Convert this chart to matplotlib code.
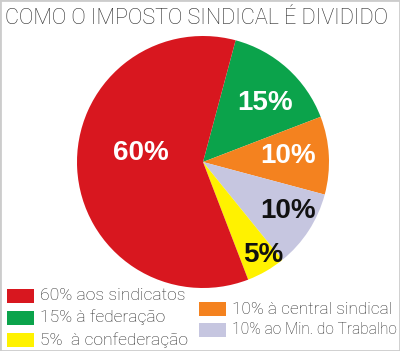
import matplotlib
matplotlib.use("Agg")
import matplotlib.pyplot as plt
from matplotlib.patches import Rectangle
import numpy as np

title = "COMO O IMPOSTO SINDICAL É DIVIDIDO"
categories = ["aos sindicatos", "à federação", " à confederação", "à central sindical", "ao Min. do Trabalho"]
values = [60, 15, 5, 10, 10]
colors = ["#d8171f", "#0ba34b", "#fff200", "#f4821f", "#c6c6e0"]
label_colors = ["white", "white", "#111111", "white", "#111111"]

# pie drawing order (clockwise from top-right): green, orange, lavender, yellow, red
order = [1, 3, 4, 2, 0]
label_dist = {0: 0.50, 1: 0.70, 2: 0.86, 3: 0.68, 4: 0.77}
label_rot = {0: -14, 1: -3, 2: 4, 3: 3, 4: 4.6}

W, H = 400, 351
fig = plt.figure(figsize=(W / 100, H / 100), dpi=100)
fig.patch.set_facecolor("white")

cx, cy, r = 203, 162, 126
ax = fig.add_axes([(cx - r) / W, 1 - (cy + r) / H, 2 * r / W, 2 * r / H])
wedges, _ = ax.pie([values[i] for i in order], colors=[colors[i] for i in order],
                   startangle=75, counterclock=False, radius=1.0,
                   wedgeprops=dict(linewidth=0))
ax.set_xlim(-1, 1)
ax.set_ylim(-1, 1)
ax.set_aspect("equal")
ax.axis("off")

for w, i in zip(wedges, order):
    ang = np.deg2rad((w.theta1 + w.theta2) / 2 + label_rot[i])
    d = label_dist[i]
    ax.text(d * np.cos(ang), d * np.sin(ang), f"{values[i]}%", ha="center", va="center_baseline",
            color=label_colors[i], fontsize=20, fontweight="bold",
            family="Liberation Sans")

fig.text(5 / W, 1 - 19 / H, title, ha="left", va="center", fontsize=15.6,
         family="Roboto", fontweight="light", color="#2a2a2a")

# legend
leg_pos = {0: (7, 295.5), 1: (7, 317.5), 2: (7, 340), 3: (199, 309), 4: (199, 330)}
leg_size = {0: 12.6, 1: 12.6, 2: 12.6, 3: 12.4, 4: 11.2}
for i in range(len(values)):
    x, y = leg_pos[i]
    fig.patches.append(Rectangle((x / W, 1 - (y + 7) / H), 27 / W, 14 / H,
                                 transform=fig.transFigure, facecolor=colors[i],
                                 edgecolor="none"))
    fig.text((x + 33) / W, 1 - y / H, f"{values[i]}% {categories[i]}", ha="left",
             va="center", fontsize=leg_size[i], family="Roboto", fontweight="light",
             color="#2a2a2a")

fig.patches.append(Rectangle((0, 0), 1, 1, transform=fig.transFigure, fill=False,
                             edgecolor="#cccccc", linewidth=2))

fig.savefig("out.png", dpi=100)
